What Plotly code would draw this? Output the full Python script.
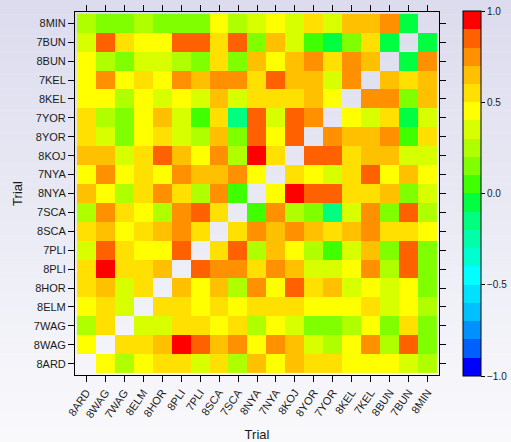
import plotly.graph_objects as go

trials = ["8ARD", "8WAG", "7WAG", "8ELM", "8HOR", "8PLI", "7PLI", "8SCA", "7SCA",
          "8NYA", "7NYA", "8KOJ", "8YOR", "7YOR", "8KEL", "7KEL", "8BUN", "7BUN", "8MIN"]

# one row per trial (bottom to top), columns in the same trial order
r_8ARD = [None, .45, .25, .45, .55, .55, .35, .55, .25, .65, .45, .65, .55, .55, .45, .45, .45, .35, .25]
r_8WAG = [.45, None, .55, .55, .65, .95, .85, .65, .75, .45, .75, .65, .35, .25, .45, .75, .25, .85, .15]
r_7WAG = [.25, .55, None, .35, .35, .55, .55, .45, .55, .25, .45, .35, .15, .15, .25, .45, .15, .55, .15]
r_8ELM = [.45, .55, .35, None, .55, .55, .45, .55, .45, .55, .55, .55, .45, .45, .45, .55, .35, .45, .25]
r_8HOR = [.55, .65, .35, .55, None, .65, .45, .65, .25, .75, .45, .85, .55, .65, .35, .45, .35, .45, .15]
r_8PLI = [.55, .95, .55, .55, .65, None, .85, .75, .75, .55, .75, .65, .35, .35, .45, .75, .25, .85, .15]
r_7PLI = [.35, .85, .55, .45, .45, .85, None, .55, .85, .25, .65, .45, .25, .05, .35, .65, .15, .85, .15]
r_8SCA = [.55, .65, .45, .55, .65, .75, .55, None, .55, .75, .65, .75, .65, .55, .65, .75, .55, .55, .45]
r_7SCA = [.25, .75, .55, .45, .25, .75, .85, .55, None, .05, .75, .25, .15, -.15, .35, .75, .15, .85, .25]
r_8NYA = [.65, .45, .25, .55, .75, .55, .25, .75, .05, None, .45, .95, .85, .85, .55, .55, .65, .15, .35]
r_7NYA = [.45, .75, .45, .55, .45, .75, .65, .65, .75, .45, None, .55, .45, .35, .55, .85, .45, .65, .45]
r_8KOJ = [.65, .65, .35, .55, .85, .65, .45, .75, .25, .95, .55, None, .85, .85, .55, .65, .65, .35, .35]
r_8YOR = [.55, .35, .15, .45, .55, .35, .25, .65, .15, .85, .45, .85, None, .75, .65, .65, .75, .05, .55]
r_7YOR = [.55, .25, .15, .45, .65, .35, .05, .55, -.15, .85, .35, .85, .75, None, .45, .35, .55, -.05, .35]
r_8KEL = [.45, .45, .25, .45, .35, .45, .35, .65, .35, .55, .55, .55, .65, .45, None, .75, .75, .15, .65]
r_7KEL = [.45, .75, .45, .55, .45, .75, .65, .75, .75, .55, .85, .65, .65, .35, .75, None, .65, .55, .65]
r_8BUN = [.45, .25, .15, .35, .35, .25, .15, .55, .15, .65, .45, .65, .75, .55, .75, .65, None, -.05, .75]
r_7BUN = [.35, .85, .55, .45, .45, .85, .85, .55, .85, .15, .65, .35, .05, -.05, .15, .55, -.05, None, -.05]
r_8MIN = [.25, .15, .15, .25, .15, .15, .15, .45, .25, .35, .45, .35, .55, .35, .65, .65, .75, -.05, None]

z = [r_8ARD, r_8WAG, r_7WAG, r_8ELM, r_8HOR, r_8PLI, r_7PLI, r_8SCA, r_7SCA, r_8NYA,
     r_7NYA, r_8KOJ, r_8YOR, r_7YOR, r_8KEL, r_7KEL, r_8BUN, r_7BUN, r_8MIN]

colorbar_ticks = [-1.0, -0.5, 0.0, 0.5, 1.0]

# 20 discrete bins from -1 to 1
bin_colors = ["#0000FF", "#0060FF", "#0090FF", "#00C0FF", "#00E0FF", "#00FFFF",
              "#00FFD0", "#00FFA8", "#00FF80", "#00FF40", "#40FF00", "#80FF00",
              "#B0FF00", "#D8FF00", "#FFFF00", "#FFE000", "#FFC000", "#FF9000",
              "#FF6000", "#FF0000"]
n = len(bin_colors)
colorscale = []
for i, c in enumerate(bin_colors):
    colorscale.append([i / n, c])
    colorscale.append([(i + 1) / n, c])

W, H = 511, 442
ml, mr, mt, mb = 75, 72, 12, 67
pw, ph = W - ml - mr, H - mt - mb

font = "Liberation Sans, Arial, sans-serif"
txt = "#1a1a1a"

fig = go.Figure(go.Heatmap(
    x=trials, y=trials, z=z, zmin=-1, zmax=1,
    colorscale=colorscale, hoverongaps=False,
    colorbar=dict(
        thickness=18, lenmode="pixels", len=365,
        x=(463 - ml) / pw, xanchor="left", xpad=0,
        y=0.5, yanchor="middle", ypad=0,
        outlinewidth=1, outlinecolor="black",
        tickvals=colorbar_ticks, tickformat=".1f",
        ticks="outside", ticklen=4, tickcolor="black",
        tickfont=dict(family=font, size=10, color=txt),
    ),
))

# vertical background gradient (lavender at top to near-white at bottom)
top = (220, 220, 238)
bot = (249, 249, 252)
steps = 60
y0p = -mb / ph
y1p = (H - mb) / ph
for k in range(steps):
    t = k / (steps - 1)
    col = tuple(round(bot[j] + (top[j] - bot[j]) * t) for j in range(3))
    ya = y0p + (y1p - y0p) * k / steps
    yb = y0p + (y1p - y0p) * (k + 1.05) / steps
    fig.add_shape(type="rect", xref="paper", yref="paper",
                  x0=-ml / pw - 0.01, x1=(W - ml) / pw + 0.01, y0=ya, y1=yb,
                  line=dict(width=0), fillcolor="rgb(%d,%d,%d)" % col, layer="below")

axis_common = dict(
    range=[-0.6, 18.6], showgrid=False, zeroline=False,
    showline=True, linecolor="black", linewidth=1, mirror="ticks",
    ticks="outside", ticklen=6, tickcolor="black", tickwidth=1,
    tickfont=dict(family=font, size=11, color=txt),
)

fig.update_layout(
    width=W, height=H,
    margin=dict(l=ml, r=mr, t=mt, b=mb, autoexpand=False),
    paper_bgcolor="white",
    plot_bgcolor="rgba(0,0,0,0)",
    xaxis=dict(**axis_common, tickangle=-55,
               title=dict(text="Trial", font=dict(family=font, size=13, color=txt), standoff=10)),
    yaxis=dict(**axis_common,
               title=dict(text="Trial", font=dict(family=font, size=13, color=txt), standoff=8)),
    font=dict(family=font),
)

fig.write_html("out.html")
